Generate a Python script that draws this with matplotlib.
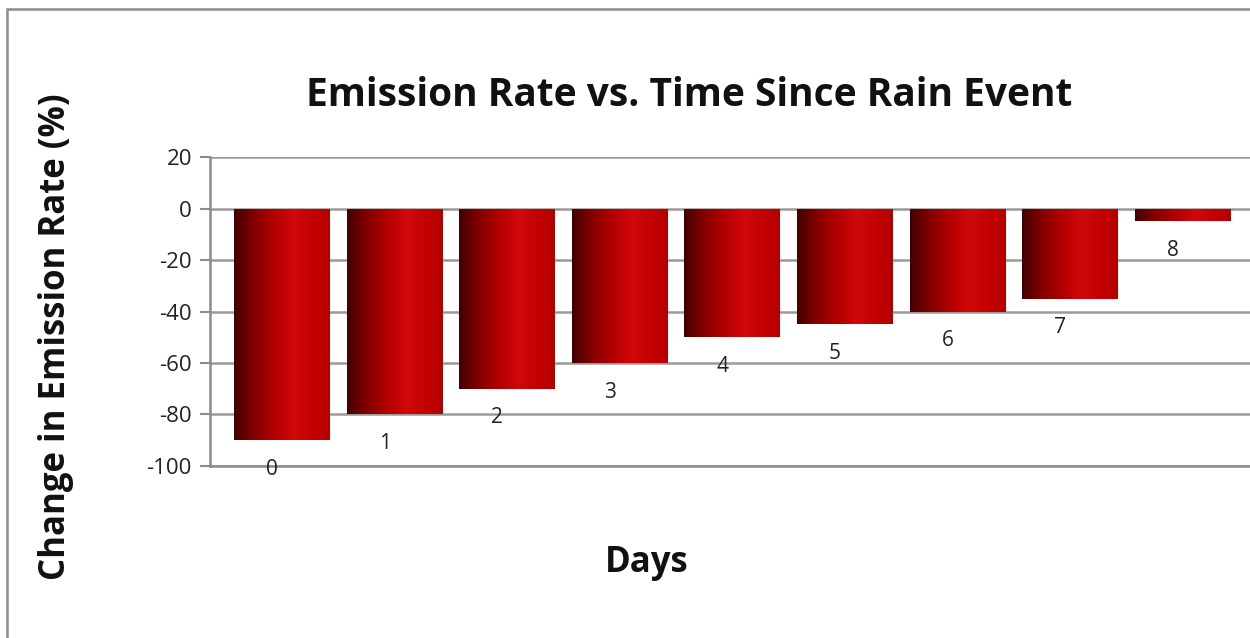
import numpy as np
import matplotlib.pyplot as plt
from matplotlib.colors import LinearSegmentedColormap
from matplotlib.patches import Rectangle

days = ['0', '1', '2', '3', '4', '5', '6', '7', '8']
change = [-90, -80, -70, -60, -50, -45, -40, -35, -5]

plt.rcParams['font.family'] = ['Open Sans', 'DejaVu Sans']
plt.rcParams['axes.unicode_minus'] = False

fig = plt.figure(figsize=(12.5, 6.38), dpi=100)
ax = fig.add_axes([0.168, 0.2696, 0.832, 0.4843])

# dark-to-bright red shading across each bar
reds = LinearSegmentedColormap.from_list('reds', [
    (0.0, '#420000'), (0.2, '#820000'), (0.42, '#b20000'),
    (0.62, '#d10808'), (0.85, '#c20000'), (1.0, '#b40000')])
grad = np.linspace(0, 1, 256).reshape(1, -1)

x = np.arange(len(days))
w = 0.85
bars = ax.bar(x, change, width=w, color='none', edgecolor='none', zorder=3)
for b in bars:
    x0, y0 = b.get_x(), b.get_y()
    bw, bh = b.get_width(), b.get_height()
    im = ax.imshow(grad, cmap=reds, aspect='auto', zorder=3,
                   extent=[x0, x0 + bw, y0 + bh, y0], interpolation='bicubic')
    im.set_clip_path(b)

for i, v in enumerate(change):
    ax.annotate(days[i], xy=(i, v), xytext=(-10, -29), textcoords='offset pixels',
                ha='center', va='center', fontsize=15, color='#222222', zorder=4)

ax.set_xlim(-0.64, 8.6)
ax.set_ylim(-100, 20)
ax.set_yticks(range(-100, 21, 20))
ax.set_xticks([])
ax.tick_params(axis='y', direction='out', length=7, width=1.5, color='#8c8c8c',
               labelsize=16, labelcolor='#222222', pad=6)
ax.grid(axis='y', color='#9a9a9a', linewidth=1.8, zorder=1)
for s in ['top', 'right']:
    ax.spines[s].set_visible(False)
for s in ['left', 'bottom']:
    ax.spines[s].set_color('#8c8c8c')
    ax.spines[s].set_linewidth(1.8)

fig.text(0.551, 0.851, 'Emission Rate vs. Time Since Rain Event', ha='center', va='center',
         fontsize=28, fontweight='bold', color='#111111')
fig.text(0.045, 0.4726, 'Change in Emission Rate (%)', ha='center', va='center',
         rotation=90, fontsize=25, fontweight='bold', color='#111111')
fig.text(0.517, 0.118, 'Days', ha='center', va='center',
         fontsize=25, fontweight='bold', color='#111111')

# outer chart frame
fig.patches.append(Rectangle((0.0056, -0.05), 1.1, 1.036, transform=fig.transFigure,
                             fill=False, edgecolor='#8c8c8c', linewidth=1.8))

fig.savefig('out.png', dpi=100)
